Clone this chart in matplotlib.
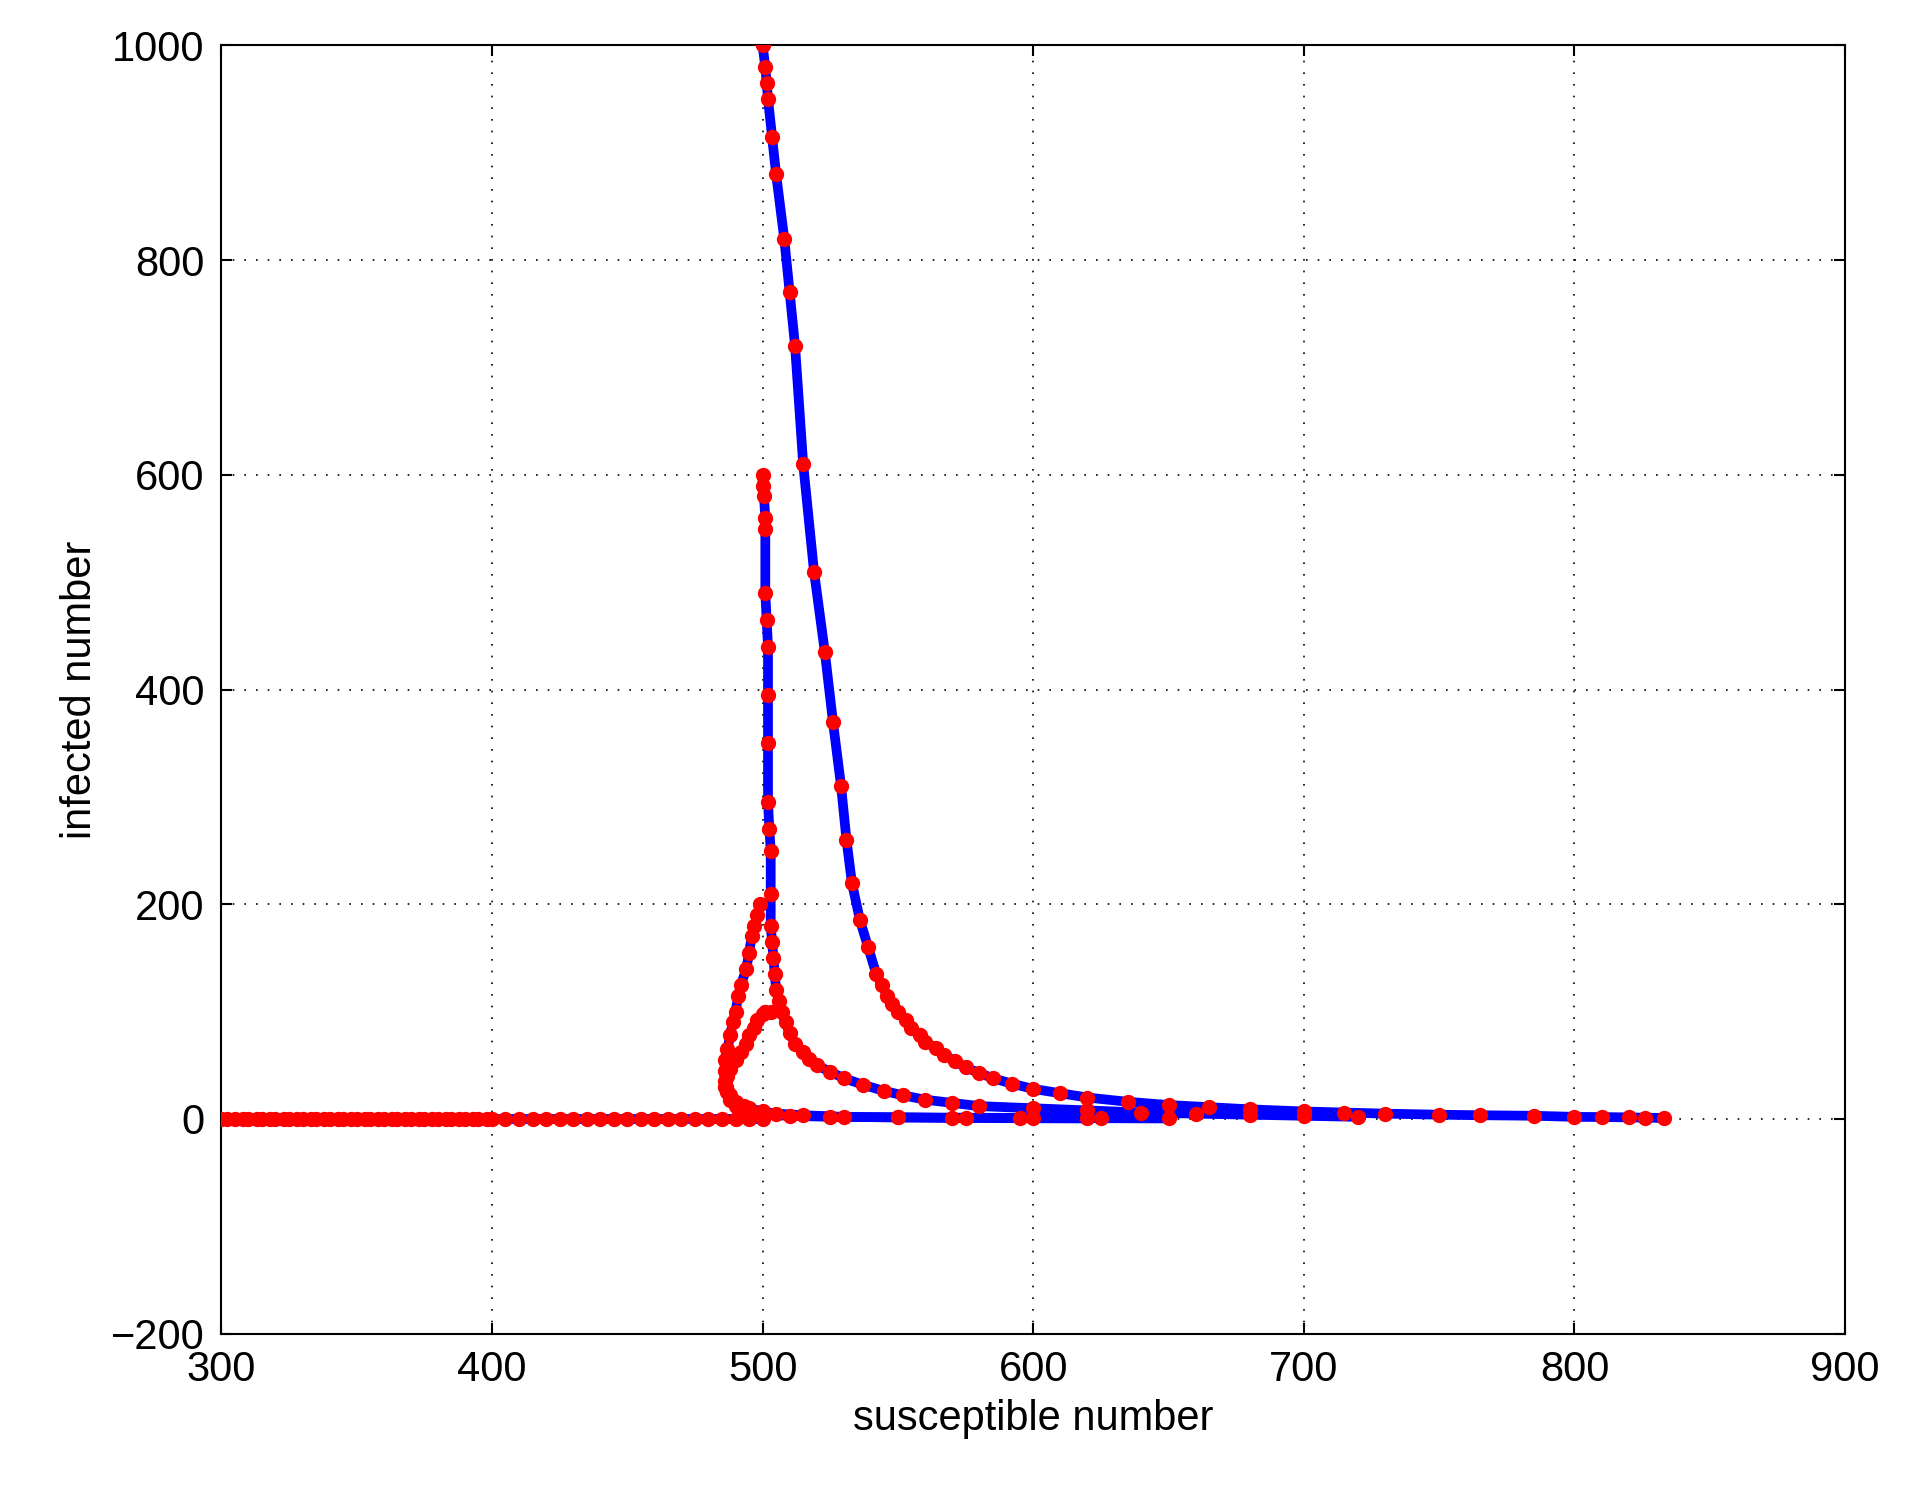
import matplotlib.pyplot as plt

# trajectories (susceptible, infected)
s_a = [500, 501, 501.5, 502, 503.5, 505, 508, 510, 512, 515, 519, 523, 526, 529, 531, 533, 536,
       539, 542, 544, 546, 548, 550, 553, 555, 558, 560, 564, 567, 571, 575, 580, 585, 592,
       600, 610, 620, 635, 650, 665, 680, 700, 715, 730, 750, 765, 785, 800, 810, 820, 826, 833]
i_a = [1000, 980, 965, 950, 915, 880, 820, 770, 720, 610, 510, 435, 370, 310, 260, 220, 185,
       160, 135, 125, 115, 107, 100, 92, 85, 78, 72, 66, 60, 54, 48, 43, 38, 33,
       28, 24, 20, 16, 13, 11, 9, 7, 6, 5, 4, 3.5, 3, 2, 1.8, 1.5, 1.2, 1]

s_b = [500, 500, 500.5, 501, 501, 501, 501.5, 502, 502, 502, 502, 502.5, 503, 503, 503, 503.5,
       504, 504.5, 505, 506, 507, 508.5, 510, 512, 515, 517, 520, 525, 530, 537, 545, 552,
       560, 570, 580, 600, 620, 640, 660, 680, 700, 720]
i_b = [600, 590, 580, 560, 550, 490, 465, 440, 395, 350, 295, 270, 250, 210, 180, 165,
       150, 135, 120, 110, 100, 90, 80, 70, 62, 56, 50, 44, 38, 32, 26, 22,
       18, 15, 12, 10, 8, 6, 5, 4, 3, 2]

s_c = [499, 498, 497, 496, 495, 494, 492, 491, 490, 489, 488, 487, 486, 486, 486, 486.5,
       487, 488, 490, 492, 495, 500, 510, 525, 550, 575, 600, 625, 650]
i_c = [200, 190, 180, 170, 155, 140, 125, 115, 100, 90, 78, 65, 55, 45, 35, 30,
       25, 18, 12, 9, 6, 4, 3, 2, 1.5, 1.2, 1, 0.7, 0.5]

s_d = [503, 501, 500, 498, 497, 495, 494, 492, 490, 488, 487, 486, 487, 488, 490, 493,
       495, 500, 505, 515, 530, 550, 570, 595, 620]
i_d = [100, 100, 98, 92, 85, 78, 70, 62, 55, 47, 40, 30, 26, 22, 16, 12,
       10, 7, 5, 3.5, 2, 1.5, 1, 0.7, 0.5]

s_zero = [300, 302, 305, 308, 310, 313, 315, 318, 320, 323, 325, 328, 330, 333, 335, 338,
          340, 343, 345, 348, 350, 353, 355, 358, 360, 363, 365, 368, 370, 373, 375, 378,
          380, 383, 385, 388, 390, 393, 395, 398, 400, 405, 410, 415, 420, 425, 430, 435,
          440, 445, 450, 455, 460, 465, 470, 475, 480, 485, 490, 495, 500]
i_zero = [0] * len(s_zero)

plt.rcParams['font.family'] = ['Liberation Sans', 'DejaVu Sans']
fig = plt.figure(figsize=(19.18, 14.91), dpi=100)
ax = fig.add_axes([0.1154, 0.1055, 0.8466, 0.864])

curves = [(s_a, i_a), (s_b, i_b), (s_c, i_c), (s_d, i_d), (s_zero, i_zero)]
for s, i in curves:
    ax.plot(s, i, color='blue', linewidth=7, zorder=2)
for s, i in curves:
    ax.plot(s, i, 'o', color='red', markersize=10, zorder=3)

ax.set_xlim(300, 900)
ax.set_ylim(-200, 1000)
ax.set_xticks(range(300, 901, 100))
ax.set_yticks(range(-200, 1001, 200))
ax.set_yticklabels(['\u2212200', '0', '200', '400', '600', '800', '1000'])
ax.grid(True, color='black', linestyle=(0, (1, 6)), linewidth=1.2)
ax.tick_params(labelsize=30, direction='in', length=8, width=1.5, top=True, right=True, pad=12)
for sp in ax.spines.values():
    sp.set_linewidth(1.5)
ax.set_xlabel('susceptible number', fontsize=30, labelpad=6)
ax.set_ylabel('infected number', fontsize=30, labelpad=8)

fig.savefig('out.png', dpi=100)
